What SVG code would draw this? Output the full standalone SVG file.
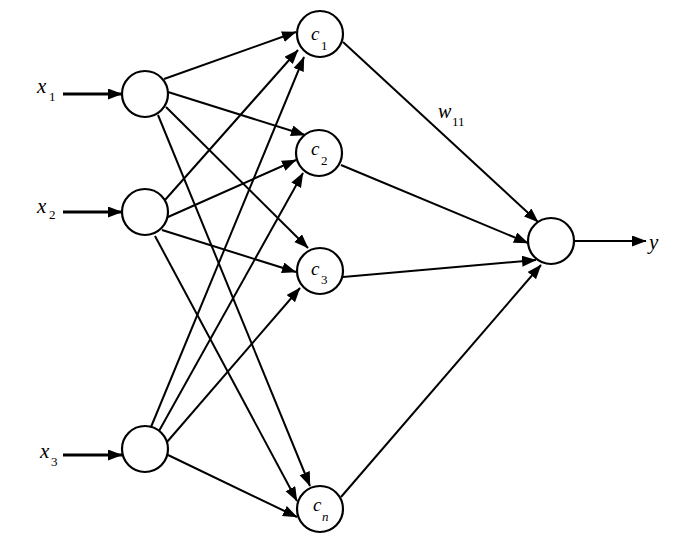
<svg xmlns="http://www.w3.org/2000/svg" width="700" height="544" viewBox="0 0 700 544">
<defs>
<style>
.node{fill:#fff;stroke:#000;stroke-width:2.2}
.edge{stroke:#000;stroke-width:2;fill:none;marker-end:url(#ah)}
.edge-in{stroke:#000;stroke-width:2.8;fill:none;marker-end:url(#ah)}
.lab{font-family:"Liberation Serif","Times New Roman",serif;font-style:italic;fill:#000}
.sub{font-family:"Liberation Serif","Times New Roman",serif;fill:#000;font-size:13px}
</style>
<marker id="ah" markerUnits="userSpaceOnUse" markerWidth="15" markerHeight="12" refX="14" refY="5.5" orient="auto">
<path d="M0,0 L14.5,5.5 L0,11 Z" fill="#000"/>
</marker>
</defs>
<rect width="700" height="544" fill="#fff"/>
<g id="connectors">
<line class="edge-in" x1="63" y1="94" x2="122" y2="94"/>
<line class="edge-in" x1="63" y1="212" x2="122" y2="212"/>
<line class="edge-in" x1="63" y1="455" x2="122" y2="455"/>
<line class="edge" x1="164" y1="79" x2="296" y2="32"/>
<line class="edge" x1="168" y1="92" x2="305" y2="135"/>
<line class="edge" x1="166" y1="107" x2="308" y2="248"/>
<line class="edge" x1="158" y1="115" x2="310" y2="486"/>
<line class="edge" x1="165" y1="200" x2="298" y2="50"/>
<line class="edge" x1="168" y1="217" x2="296" y2="160"/>
<line class="edge" x1="162" y1="230" x2="296" y2="272"/>
<line class="edge" x1="155" y1="236" x2="297" y2="501"/>
<line class="edge" x1="151" y1="427" x2="304" y2="57"/>
<line class="edge" x1="159" y1="431" x2="303" y2="173"/>
<line class="edge" x1="167" y1="442" x2="300" y2="288"/>
<line class="edge" x1="168" y1="455" x2="297" y2="517"/>
<line class="edge" x1="343" y1="42" x2="538" y2="222"/>
<line class="edge" x1="341" y1="165" x2="528" y2="243"/>
<line class="edge" x1="343" y1="277" x2="536" y2="260"/>
<line class="edge" x1="341" y1="497" x2="541" y2="265"/>
<line class="edge" x1="575" y1="241" x2="646" y2="241"/>
</g>
<g id="in1"><circle class="node" cx="145" cy="94" r="23"/></g>
<g id="in2"><circle class="node" cx="145" cy="212" r="23"/></g>
<g id="in3"><circle class="node" cx="145" cy="449" r="23"/></g>
<g id="c1"><circle class="node" cx="320" cy="34" r="23"/><text class="lab" x="311" y="40" font-size="19">c</text><text class="sub" x="321" y="50">1</text></g>
<g id="c2"><circle class="node" cx="319" cy="153" r="23"/><text class="lab" x="311" y="155" font-size="19">c</text><text class="sub" x="321" y="165">2</text></g>
<g id="c3"><circle class="node" cx="320" cy="271" r="23"/><text class="lab" x="311" y="275" font-size="19">c</text><text class="sub" x="321" y="284">3</text></g>
<g id="cn"><circle class="node" cx="320" cy="509" r="23"/><text class="lab" x="313" y="511" font-size="19">c</text><text class="sub" x="322" y="521" font-style="italic">n</text></g>
<g id="out"><circle class="node" cx="551" cy="241" r="23"/></g>
<g id="labels">
<text class="lab" x="37" y="93" font-size="21">x</text><text class="sub" x="49" y="101">1</text>
<text class="lab" x="37" y="213" font-size="21">x</text><text class="sub" x="49" y="219">2</text>
<text class="lab" x="40" y="458" font-size="21">x</text><text class="sub" x="51" y="466">3</text>
<text class="lab" x="438" y="118" font-size="20">w</text><text class="sub" x="452" y="126">11</text>
<text class="lab" x="649" y="249" font-size="21">y</text>
</g>
</svg>
